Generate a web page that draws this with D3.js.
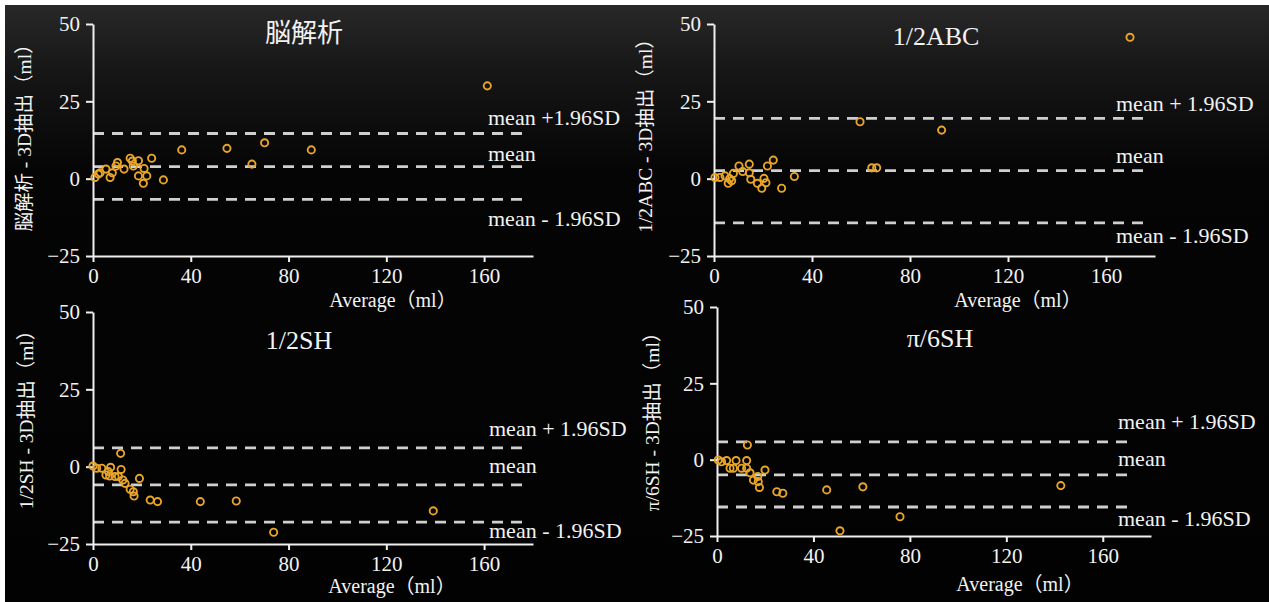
<!DOCTYPE html>
<html><head><meta charset="utf-8">
<script src="https://cdn.jsdelivr.net/npm/d3@7"></script>
<style>
html,body{margin:0;padding:0;background:#fff;}
svg{display:block;}
text{font-family:"Liberation Serif","Noto Sans CJK JP",serif;fill:#f2f2f2;}
</style></head>
<body>
<svg id="c" width="1269" height="602"></svg>
<script>
// ---- data ----
const xTicks = [0, 40, 80, 120, 160];
const yTicks = [-25, 0, 25, 50];
const panelTitles = ["脳解析", "1/2ABC", "1/2SH", "π/6SH"];
const yTitles = ["脳解析 - 3D抽出（ml）", "1/2ABC - 3D抽出（ml）", "1/2SH - 3D抽出（ml）", "π/6SH - 3D抽出（ml）"];
const xTitle = "Average（ml）";
const limitLabels1 = ["mean +1.96SD", "mean", "mean - 1.96SD"];
const limitLabels = ["mean + 1.96SD", "mean", "mean - 1.96SD"];

const avg1 = [0.8, 2.2, 2.9, 5.3, 7.0, 7.9, 9.4, 10.0, 12.7, 15.2, 16.1, 16.5, 18.6, 18.6, 20.6, 20.9, 22.0, 24.0, 28.8, 36.3, 54.8, 65.0, 70.2, 89.3, 161.3];
const diff1 = [0.4, 1.5, 1.9, 3.1, 0.4, 1.9, 4.1, 5.2, 3.1, 6.6, 5.7, 4.1, 5.8, 0.9, -1.5, 3.3, 0.9, 6.6, -0.4, 9.3, 9.8, 4.7, 11.6, 9.3, 30.0];
const limits1 = [14.6, 3.9, -6.7];

const avg2 = [0.4, 2.4, 4.5, 5.8, 6.4, 7.2, 7.9, 10.2, 11.7, 14.4, 14.4, 15.0, 17.7, 19.5, 20.4, 21.2, 21.8, 24.2, 27.6, 32.8, 59.6, 64.4, 66.4, 92.9, 169.8];
const diff2 = [0.4, 0.4, 0.9, -1.5, 0.0, -0.7, 1.7, 4.1, 2.3, 4.7, 1.9, -0.2, -1.5, -3.1, 0.1, -1.3, 4.1, 6.0, -3.1, 0.7, 18.4, 3.5, 3.5, 15.7, 45.7];
const limits2 = [19.5, 2.6, -14.3];

const avg3 = [0.0, 1.5, 3.6, 5.3, 6.3, 6.8, 7.2, 9.0, 10.4, 11.3, 11.5, 12.2, 13.1, 15.2, 16.5, 16.8, 19.0, 23.4, 26.4, 43.9, 58.6, 73.9, 139.2];
const diff3 = [0.2, -0.5, -0.5, -2.7, -1.6, -3.0, -0.2, -3.2, -3.2, 4.3, -0.9, -4.3, -5.4, -7.3, -8.1, -9.5, -3.8, -10.8, -11.3, -11.3, -11.1, -21.2, -14.3];
const limits3 = [6.1, -5.9, -17.9];

const avg4 = [0.5, 1.9, 4.0, 5.4, 6.8, 7.9, 10.2, 12.3, 12.3, 12.6, 13.7, 15.1, 16.9, 17.1, 17.6, 19.9, 24.8, 27.3, 45.5, 51.0, 60.5, 75.9, 142.6];
const diff4 = [-0.1, -0.7, -0.3, -2.8, -2.8, -0.3, -2.8, -0.3, -2.8, 4.8, -4.3, -6.7, -5.5, -7.2, -9.1, -3.4, -10.5, -11.0, -9.9, -23.3, -8.9, -18.7, -8.5];
const limits4 = [5.8, -5.0, -15.5];

// ---- layout ----
const panels = [
  {avg: avg1, diff: diff1, lim: limits1, labels: limitLabels1, x0: 93, x1: 533, yTop: 24, yBot: 256,
   lineEnd: 178, labelX: 488, labelY: [117, 153, 218], titleX: 304, titleY: 33, yTitleX: 24, yTitleY: 133, xTitleX: 393, xTitleY: 300},
  {avg: avg2, diff: diff2, lim: limits2, labels: limitLabels, x0: 714, x1: 1155, yTop: 24, yBot: 256,
   lineEnd: 178, labelX: 1116, labelY: [103, 155, 235], titleX: 936, titleY: 36, yTitleX: 645, yTitleY: 131, xTitleX: 1018, xTitleY: 300},
  {avg: avg3, diff: diff3, lim: limits3, labels: limitLabels, x0: 93, x1: 533, yTop: 312, yBot: 544,
   lineEnd: 177, labelX: 489, labelY: [428, 465, 530], titleX: 299, titleY: 340, yTitleX: 26, yTitleY: 415, xTitleX: 392, xTitleY: 586},
  {avg: avg4, diff: diff4, lim: limits4, labels: limitLabels, x0: 717, x1: 1151, yTop: 307, yBot: 536,
   lineEnd: 173, labelX: 1118, labelY: [421, 458, 518], titleX: 940, titleY: 338, yTitleX: 652, yTitleY: 417, xTitleX: 1020, xTitleY: 584}
];

const svg = d3.select("#c");
const defs = svg.append("defs");
const grad = defs.append("linearGradient").attr("id", "bg").attr("x1", 0).attr("y1", 0).attr("x2", 0).attr("y2", 1);
grad.append("stop").attr("offset", "0%").attr("stop-color", "#282828");
grad.append("stop").attr("offset", "12%").attr("stop-color", "#151515");
grad.append("stop").attr("offset", "28%").attr("stop-color", "#050505");
grad.append("stop").attr("offset", "100%").attr("stop-color", "#020202");

svg.append("rect").attr("width", 1269).attr("height", 602).attr("fill", "#ffffff");
svg.append("rect").attr("x", 5).attr("y", 5).attr("width", 1264).attr("height", 597).attr("fill", "url(#bg)");

panels.forEach((p, i) => {
  const x = d3.scaleLinear().domain([0, 180]).range([p.x0, p.x1]);
  const y = d3.scaleLinear().domain([-25, 50]).range([p.yBot, p.yTop]);
  const g = svg.append("g");

  // dashed limit lines
  g.selectAll("line.lim").data(p.lim).join("line")
    .attr("x1", x(0)).attr("x2", x(p.lineEnd))
    .attr("y1", d => y(d)).attr("y2", d => y(d))
    .attr("stroke", "#cfcfcf").attr("stroke-width", 2.8)
    .attr("stroke-dasharray", "11,8");

  // axes
  const ya = g.append("g").attr("transform", `translate(${p.x0},0)`)
    .call(d3.axisLeft(y).tickValues(yTicks).tickSize(7).tickSizeOuter(0).tickPadding(6));
  const xa = g.append("g").attr("transform", `translate(0,${p.yBot})`)
    .call(d3.axisBottom(x).tickValues(xTicks).tickSize(6).tickSizeOuter(0).tickPadding(6));
  [ya, xa].forEach(a => {
    a.select(".domain").attr("stroke", "#f0f0f0").attr("stroke-width", 2);
    a.selectAll(".tick line").attr("stroke", "#f0f0f0").attr("stroke-width", 2);
    a.selectAll(".tick text").attr("fill", "#f0f0f0").style("font-size", "21px")
      .style("font-family", '"Liberation Serif", serif');
  });

  // points
  g.selectAll("circle").data(p.avg.map((a, k) => [a, p.diff[k]])).join("circle")
    .attr("cx", d => x(d[0])).attr("cy", d => y(d[1])).attr("r", 3.6)
    .attr("fill", "none").attr("stroke", "#e8a52a").attr("stroke-width", 1.9);

  // limit labels
  g.selectAll("text.ll").data(p.labels).join("text").attr("class", "ll")
    .attr("x", p.labelX).attr("y", (d, k) => p.labelY[k]).attr("dy", "0.35em")
    .style("font-size", "22px").text(d => d);

  // title
  g.append("text").attr("x", p.titleX).attr("y", p.titleY).attr("dy", "0.35em")
    .attr("text-anchor", "middle").style("font-size", "26px").text(panelTitles[i]);

  // y title
  g.append("text").attr("transform", `translate(${p.yTitleX},${p.yTitleY}) rotate(-90)`)
    .attr("dy", "0.35em").attr("text-anchor", "middle").style("font-size", "19.5px").text(yTitles[i]);

  // x title
  g.append("text").attr("x", p.xTitleX).attr("y", p.xTitleY).attr("dy", "0.35em")
    .attr("text-anchor", "middle").style("font-size", "20px").text(xTitle);
});
</script>
</body></html>
